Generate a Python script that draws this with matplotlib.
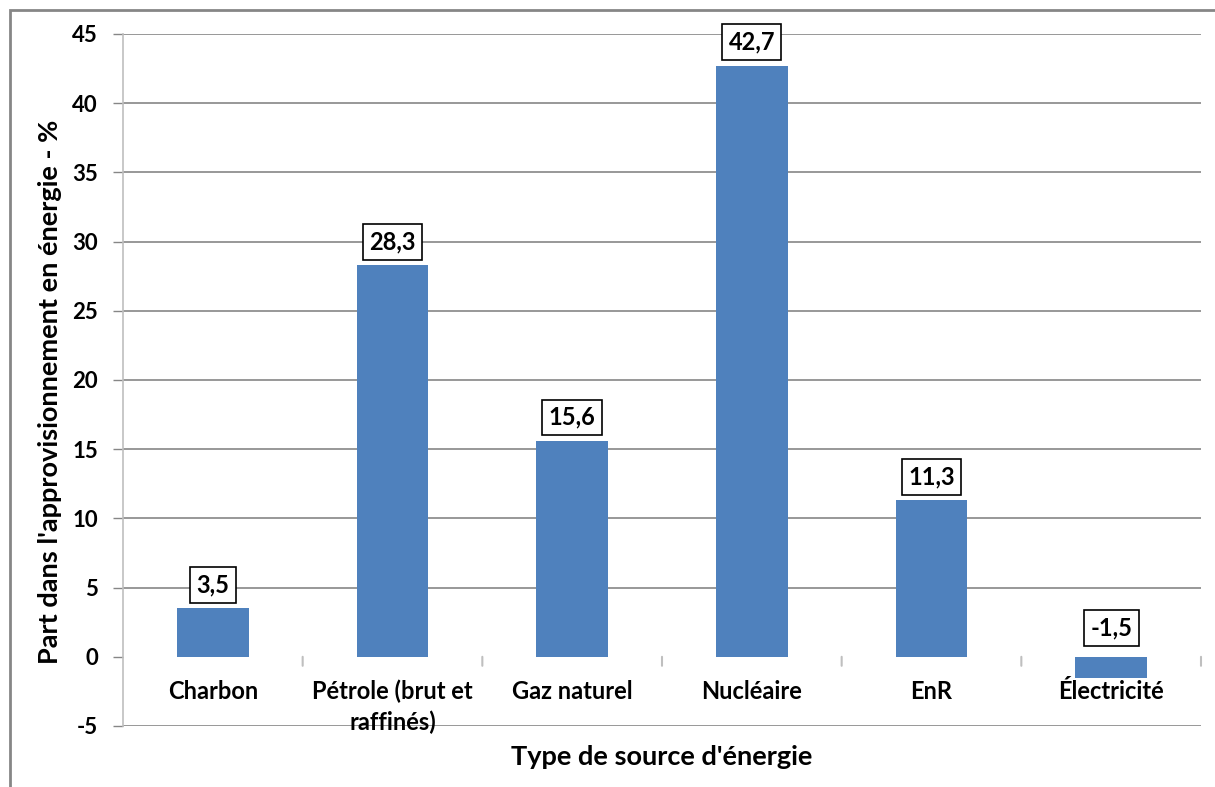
import numpy as np
import matplotlib.pyplot as plt
from matplotlib.patches import Rectangle

# categories and values (%)
categories = ["Charbon", "Pétrole (brut et\nraffinés)", "Gaz naturel",
              "Nucléaire", "EnR", "Électricité"]
values = [3.5, 28.3, 15.6, 42.7, 11.3, -1.5]
value_labels = ["3,5", "28,3", "15,6", "42,7", "11,3", "-1,5"]
yticks = [-5, 0, 5, 10, 15, 20, 25, 30, 35, 40, 45]

plt.rcParams['font.family'] = ['Lato', 'DejaVu Sans']

fig = plt.figure(figsize=(12.15, 7.87), dpi=100)
ax = fig.add_axes([123/1215, 1-726/787, (1201-123)/1215, (726-34)/787])

x = np.arange(len(categories))
ax.bar(x, values, width=0.4, color="#4F81BD", zorder=3)

ax.set_xlim(-0.5, len(categories)-0.5)
ax.set_ylim(-5, 45)
ax.set_yticks(yticks)
ax.set_yticklabels([str(v) for v in yticks], fontsize=16, fontweight='bold')
ax.tick_params(axis='y', length=7, width=1, color="#868686", pad=11)

# gridlines (no line at zero)
for v in yticks:
    if v != 0:
        ax.axhline(v, color="#868686", lw=1.2, zorder=1)

# category separator ticks below zero line
ax.set_xticks([])
for b in np.arange(0.5, len(categories), 1.0):
    ax.annotate("", xy=(b, 0), xytext=(0, -9), textcoords='offset pixels',
                arrowprops=dict(arrowstyle='-', color="#BFBFBF", lw=1.5,
                                shrinkA=0, shrinkB=0))

for i, c in enumerate(categories):
    ax.annotate(c, xy=(i, 0), xytext=(0, -23), textcoords='offset pixels',
                ha='center', va='top', fontsize=17, fontweight='bold',
                linespacing=1.35)

for i, (v, lab) in enumerate(zip(values, value_labels)):
    base = max(v, 0)
    off = 12 if v >= 0 else 17
    ax.annotate(lab, xy=(i, base), xytext=(0, off), textcoords='offset pixels',
                ha='center', va='bottom', fontsize=17, fontweight='bold',
                bbox=dict(boxstyle='square,pad=0.27', fc='white', ec='black', lw=1.2))

for s in ['top', 'right', 'bottom']:
    ax.spines[s].set_visible(False)
ax.spines['left'].set_color("#BFBFBF")
ax.spines['left'].set_linewidth(1.2)

fig.text(50/1215, 1-392/787, "Part dans l'approvisionnement en énergie - %",
         rotation=90, ha='center', va='center', fontsize=19.5, fontweight='bold')
fig.text((123+1201)/2/1215, 1-757/787, "Type de source d'énergie", ha='center',
         va='center', fontsize=19.5, fontweight='bold')

# outer chart border
fig.add_artist(Rectangle((10/1215, -0.1), 1.2, 1-10/787+0.1,
                         transform=fig.transFigure, fill=False,
                         ec="#868686", lw=2))

fig.savefig("out.png", dpi=100)
